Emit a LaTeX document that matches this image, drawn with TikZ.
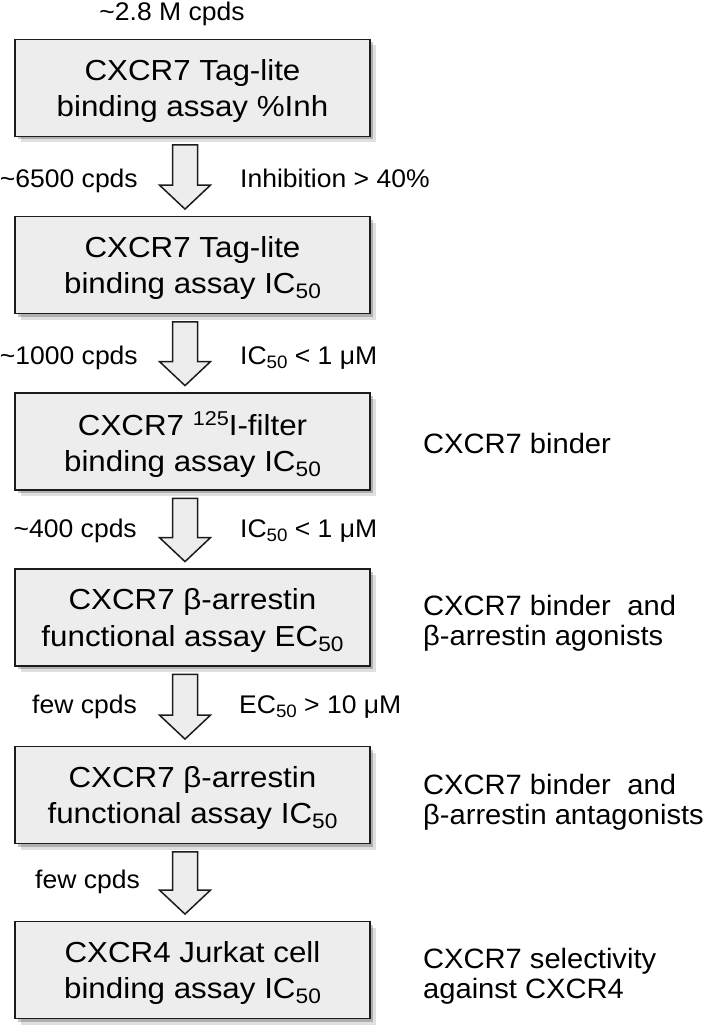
\documentclass[tikz,border=0pt]{standalone}
\usepackage{fontspec}
\setmainfont{Liberation Sans}
\newfontfamily\boxfont{Liberation Sans}[FakeStretch=1.08]
\newfontfamily\labfont{Liberation Sans}[FakeStretch=1.04]
\newfontfamily\sidefont{Liberation Sans}[FakeStretch=1.04]
\usetikzlibrary{shadows,calc}
\definecolor{boxfill}{RGB}{237,237,237}
\definecolor{edgecol}{RGB}{28,28,28}
\newcommand\bsub[1]{\raisebox{-5pt}{\fontsize{21}{21}\selectfont #1}}
\newcommand\lsub[1]{\raisebox{-4.5pt}{\fontsize{18}{18}\selectfont #1}}
\newcommand\bsup[1]{\raisebox{10pt}{\fontsize{20}{20}\selectfont #1}}
\tikzset{
  stagebox/.style={draw=edgecol, line width=1.8pt, fill=boxfill,
    minimum width=355pt, minimum height=97pt, inner sep=0pt,
    align=center, text depth=0pt,
    font=\boxfont\fontsize{29}{36.5}\selectfont,
    drop shadow={shadow xshift=6pt, shadow yshift=-6pt, opacity=0.12, fill=black},
    drop shadow={shadow xshift=3pt, shadow yshift=-3pt, opacity=0.22, fill=black}},
  barrow/.style={draw=edgecol, line width=1.5pt, fill=boxfill, line join=miter},
  countlab/.style={anchor=base east, inner sep=0pt, font=\labfont\fontsize{25.5}{29}\selectfont},
  critlab/.style={anchor=base west, inner sep=0pt, font=\labfont\fontsize{25.5}{29}\selectfont},
  sidelab/.style={anchor=base west, inner sep=0pt, font=\sidefont\fontsize{28}{30.5}\selectfont}
}
\begin{document}
\begin{tikzpicture}[x=1pt,y=-1pt]
\useasboundingbox (0,0) rectangle (705,1035);

\node[anchor=base, inner sep=0pt, font=\labfont\fontsize{25.5}{29}\selectfont] (top) at (172,21) {\textasciitilde2.8 M cpds};

\node[stagebox] (b1) at (192.5,88)    {CXCR7 Tag-lite\\binding assay \%Inh};
\node[stagebox] (b2) at (192.5,265)   {CXCR7 Tag-lite\\binding assay IC\bsub{50}};
\node[stagebox] (b3) at (192.5,441.5) {CXCR7 \bsup{125}I-filter\\binding assay IC\bsub{50}};
\node[stagebox] (b4) at (192.5,617.5) {CXCR7 β-arrestin\\functional assay EC\bsub{50}};
\node[stagebox] (b5) at (192.5,795)   {CXCR7 β-arrestin\\functional assay IC\bsub{50}};
\node[stagebox] (b6) at (192.5,970)   {CXCR4 Jurkat cell\\binding assay IC\bsub{50}};

\foreach \a/\b in {b1/b2,b2/b3,b3/b4,b4/b5,b5/b6}{
  \coordinate (t\a) at ($(\a.south)+(-7.5,7.5)$);
  \coordinate (p\a) at ($(\b.north)+(-7.5,-6.5)$);
  \coordinate (h\a) at ($(p\a)+(0,-24)$);
  \draw[barrow] ($(t\a)+(-12.5,0)$) -- ($(t\a)+(12.5,0)$) -- ($(h\a)+(12.5,0)$)
     -- ($(h\a)+(25.5,0)$) -- (p\a) -- ($(h\a)+(-25.5,0)$) -- ($(h\a)+(-12.5,0)$) -- cycle;
}

\node[countlab] (c1) at (138,188) {\textasciitilde6500 cpds};
\node[critlab]  (r1) at (240,188) {Inhibition > 40\%};
\node[countlab] (c2) at (138,364) {\textasciitilde1000 cpds};
\node[critlab]  (r2) at (240,364) {IC\lsub{50} < 1 μM};
\node[countlab] (c3) at (137,537) {\textasciitilde400 cpds};
\node[critlab]  (r3) at (240,537) {IC\lsub{50} < 1 μM};
\node[countlab] (c4) at (137,713) {few cpds};
\node[critlab]  (r4) at (239,713) {EC\lsub{50} > 10 μM};
\node[countlab] (c5) at (140,888) {few cpds};

\node[sidelab] (s3) at (423,453) {CXCR7 binder};
\node[sidelab] (s4) at (423,615) {\begin{tabular}[t]{@{}l@{}}CXCR7 binder\hspace{0.3em} and\\β-arrestin agonists\end{tabular}};
\node[sidelab] (s5) at (423,794) {\begin{tabular}[t]{@{}l@{}}CXCR7 binder\hspace{0.3em} and\\β-arrestin antagonists\end{tabular}};
\node[sidelab] (s6) at (423,968) {\begin{tabular}[t]{@{}l@{}}CXCR7 selectivity\\against CXCR4\end{tabular}};
\end{tikzpicture}
\end{document}
